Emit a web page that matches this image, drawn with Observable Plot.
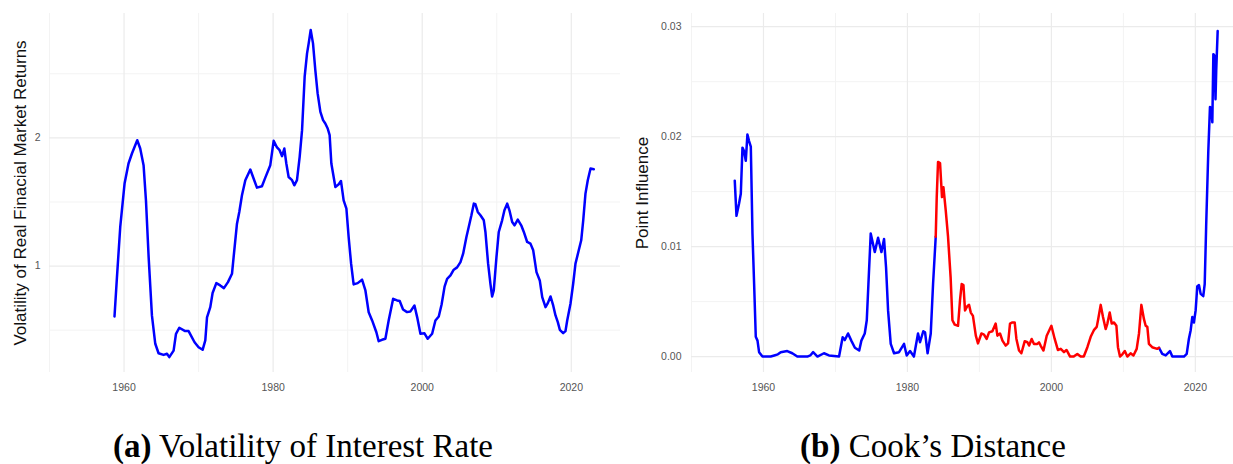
<!DOCTYPE html>
<html>
<head>
<meta charset="utf-8">
<script src="https://cdn.jsdelivr.net/npm/d3@7"></script>
<script src="https://cdn.jsdelivr.net/npm/@observablehq/plot@0.6"></script>
<style>
  html, body { margin: 0; padding: 0; background: white; }
  #wrap { position: relative; width: 1233px; height: 464px; overflow: hidden; background: white; }
  .panel { position: absolute; top: 0; }
  .cap { position: absolute; top: 430px; font-family: "Liberation Serif", "Times New Roman", serif; font-size: 33px; line-height: 33px; white-space: nowrap; color: #000; transform: translateX(-50%); }
  .cap b { font-weight: bold; }
</style>
</head>
<body>
<div id="wrap">
  <div class="panel" id="left" style="left:0px"></div>
  <div class="panel" id="right" style="left:625px"></div>
  <div class="cap" style="left:303px"><b>(a)</b> Volatility of Interest Rate</div>
  <div class="cap" style="left:933px"><b>(b)</b> Cook’s Distance</div>
</div>
<script>
// ---- Data: (a) volatility of real financial market returns ----
const volYears = [
  1958.72,1959.05,1959.49,1960.07,1960.6,1961.06,1961.77,1962.17,1962.62,1962.94,
  1963.3,1963.74,1964.19,1964.63,1965.3,1965.76,1966.07,1966.65,1966.97,1967.41,
  1968.2,1968.66,1969.46,1970.0,1970.54,1970.9,1971.13,1971.57,1971.88,1972.38,
  1972.9,1973.4,1973.94,1974.48,1974.7,1975.15,1975.46,1975.82,1976.27,1976.94,
  1977.38,1977.83,1978.5,1978.95,1979.62,1980.07,1980.52,1980.87,1981.2,1981.5,
  1981.77,1982.08,1982.54,1982.84,1983.2,1983.56,1983.88,1984.23,1984.55,1984.77,
  1985.04,1985.35,1985.66,1985.97,1986.34,1986.7,1987.0,1987.32,1987.58,1987.81,
  1988.35,1988.8,1989.1,1989.46,1989.83,1990.13,1990.46,1990.8,1991.34,1991.93,
  1992.38,1992.82,1993.28,1993.85,1994.16,1994.6,1995.06,1995.5,1996.1,1996.63,
  1996.98,1997.43,1997.97,1998.4,1998.96,1999.32,1999.76,2000.3,2000.74,2001.33,
  2001.77,2002.22,2002.6,2003.0,2003.34,2003.79,2004.23,2004.68,2005.13,2005.49,
  2005.93,2006.24,2006.6,2006.92,2007.14,2007.45,2007.81,2008.26,2008.48,2008.84,
  2009.15,2009.38,2009.6,2009.96,2010.27,2010.72,2011.03,2011.4,2011.7,2012.07,
  2012.38,2012.82,2013.28,2013.63,2014.08,2014.52,2014.89,2015.33,2015.77,2016.1,
  2016.54,2016.85,2017.21,2017.57,2017.88,2018.19,2018.46,2018.91,2019.22,2019.45,
  2019.89,2020.25,2020.56,2021.0,2021.33,2021.6,2021.9,2022.21,2022.58,2023.02
];
const volValues = [
  0.607,0.914,1.305,1.644,1.80,1.878,1.982,1.917,1.787,1.513,
  1.07,0.615,0.394,0.32,0.307,0.316,0.29,0.341,0.472,0.519,
  0.493,0.493,0.406,0.367,0.347,0.42,0.60,0.68,0.79,0.867,
  0.849,0.828,0.875,0.94,1.07,1.331,1.422,1.552,1.67,1.753,
  1.683,1.612,1.623,1.69,1.787,1.977,1.925,1.904,1.857,1.917,
  1.80,1.695,1.67,1.63,1.67,1.852,2.06,2.477,2.659,2.737,
  2.841,2.737,2.529,2.347,2.203,2.138,2.112,2.073,2.021,1.80,
  1.617,1.638,1.664,1.513,1.448,1.227,1.019,0.857,0.867,0.894,
  0.81,0.64,0.576,0.484,0.414,0.425,0.433,0.576,0.745,0.732,
  0.727,0.662,0.641,0.645,0.693,0.602,0.472,0.476,0.433,0.472,
  0.576,0.607,0.70,0.84,0.901,0.927,0.972,0.99,1.031,1.097,
  1.227,1.305,1.396,1.487,1.482,1.422,1.396,1.357,1.266,1.019,
  0.862,0.763,0.81,1.07,1.266,1.357,1.435,1.487,1.435,1.344,
  1.318,1.362,1.318,1.266,1.188,1.175,1.123,0.953,0.888,0.758,
  0.68,0.711,0.763,0.693,0.615,0.563,0.503,0.477,0.493,0.576,
  0.706,0.862,1.019,1.123,1.201,1.357,1.565,1.67,1.761,1.756
];

// ---- Data: (b) Cook's distance ----
const cookYears = [
  1956.01,1956.25,1956.6,1956.85,1957.08,1957.3,1957.54,1957.77,1958.0,1958.24,
  1958.47,1958.7,1958.93,1959.17,1959.39,1959.86,1961.0,1961.5,1962.0,1962.4,
  1963.3,1964.0,1964.7,1966.1,1966.5,1966.9,1967.5,1968.4,1969.1,1970.5,
  1971.0,1971.3,1971.75,1972.2,1972.7,1973.3,1973.6,1974.07,1974.35,1974.58,
  1974.9,1975.46,1975.92,1976.39,1976.75,1977.03,1977.31,1977.68,1978.14,1978.83,
  1979.53,1979.9,1980.36,1980.9,1981.47,1981.75,1982.2,1982.45,1982.8,1983.24,
  1983.56,1983.93,1984.07,1984.25,1984.53,1984.8,1985.0,1985.32,1985.64,1986.0,
  1986.25,1986.57,1987.03,1987.3,1987.54,1987.78,1988.0,1988.33,1988.56,1988.8,
  1989.1,1989.5,1989.8,1990.28,1990.64,1991.0,1991.34,1991.8,1992.26,1992.5,
  1992.86,1993.2,1993.65,1993.98,1994.25,1994.58,1994.9,1995.14,1995.5,1995.83,
  1996.3,1996.67,1996.9,1997.26,1997.58,1998.05,1998.28,1998.5,1998.9,1999.35,
  2000.0,2000.46,2000.9,2001.3,2001.75,2002.1,2002.6,2003.1,2003.6,2004.07,
  2004.5,2005.0,2005.46,2005.9,2006.3,2006.5,2006.85,2007.17,2007.54,2007.78,
  2008.1,2008.38,2008.7,2009.03,2009.25,2009.53,2009.86,2010.2,2010.55,2011.0,
  2011.4,2011.85,2012.17,2012.5,2012.86,2013.1,2013.33,2013.55,2014.0,2014.7,
  2014.95,2015.4,2015.88,2016.47,2016.8,2018.42,2018.8,2019.1,2019.35,2019.58,
  2019.8,2020.04,2020.27,2020.5,2020.74,2021.1,2021.3,2021.5,2021.8,2022.03,
  2022.2,2022.36,2022.5,2022.64,2022.8,2022.9,2023.1
];
const cookValues = [
  0.0160,0.0128,0.0139,0.0148,0.0190,0.0187,0.0178,0.0202,0.0196,0.0191,
  0.0112,0.0066,0.0018,0.00145,0.0004,0.0,0.0,0.0001,0.0002,0.0004,
  0.0005,0.0003,0.0,0.0,0.0001,0.0004,0.0,0.0003,0.0001,0.0,
  0.00176,0.0015,0.0021,0.00145,0.0008,0.00055,0.00145,0.0021,0.0033,0.0066,
  0.0112,0.0095,0.0108,0.0095,0.0107,0.0081,0.0042,0.00115,0.0003,0.0004,
  0.00115,0.0001,0.0005,0.0,0.0021,0.0013,0.0023,0.0022,0.0003,0.0021,
  0.0066,0.0109,0.0145,0.0177,0.0176,0.0145,0.0154,0.0133,0.0109,0.0072,
  0.0033,0.0029,0.0028,0.0051,0.0066,0.0065,0.0042,0.0046,0.0047,0.0040,
  0.0037,0.0019,0.0012,0.0021,0.0020,0.0016,0.0022,0.0023,0.0030,0.0019,
  0.0021,0.00145,0.0010,0.0012,0.0030,0.0031,0.0031,0.0016,0.00055,0.0003,
  0.0014,0.0013,0.0010,0.0016,0.00115,0.00115,0.0013,0.0010,0.00055,0.0019,
  0.0028,0.0016,0.0006,0.0007,0.0004,0.0006,0.0,0.0,0.00024,0.0,
  0.0,0.00085,0.0018,0.0024,0.0027,0.0034,0.0047,0.0036,0.0025,0.0030,
  0.0040,0.0030,0.0031,0.0028,0.00085,0.0,0.0002,0.0005,0.0,0.0003,
  0.0001,0.0007,0.0021,0.0047,0.0034,0.0028,0.0027,0.00115,0.00085,0.0007,
  0.0008,0.00024,0.0001,0.0005,0.0,0.0,0.00024,0.0016,0.0024,0.0036,
  0.0031,0.0042,0.0064,0.0065,0.0057,0.0055,0.0066,0.0118,0.0187,0.0227,
  0.0226,0.0213,0.0275,0.0274,0.0234,0.0260,0.0296
];
// highlighted (red) period of the Cook's distance series
const highlightStart = 1983.93;
const highlightEnd = 2014.95;

// ---- Axis ticks ----
const xMajor = [1960, 1980, 2000, 2020];
const xMinor = [1950, 1970, 1990, 2010];
const volMajor = [1, 2];
const volMinor = [0.5, 1.5, 2.5];
const cookMajor = [0, 0.01, 0.02, 0.03];
const cookMinor = [0.005, 0.015, 0.025];

const volTitle = "Volatility of Real Finacial Market Returns";
const cookTitle = "Point Influence";

const volRows = volYears.map((y, i) => ({year: y, value: volValues[i]}));
const cookRows = cookYears.map((y, i) => ({year: y, value: cookValues[i]}));

const gridMajor = "#ebebeb";
const gridMinor = "#f3f3f3";
const axisStyle = {fontFamily: "'Liberation Sans', Arial, sans-serif", fontSize: "10.5px", color: "#555", background: "white", overflow: "visible"};

const left = Plot.plot({
  width: 625, height: 400,
  marginLeft: 49, marginRight: 5, marginTop: 13, marginBottom: 28,
  style: axisStyle,
  x: {domain: [1950, 2026.6], ticks: xMajor, tickFormat: d => String(d), tickSize: 0, tickPadding: 11, label: null},
  y: {domain: [0.17, 2.97], ticks: volMajor, tickFormat: d => String(d), tickSize: 0, tickPadding: 9, label: null},
  marks: [
    Plot.ruleX(xMinor, {stroke: gridMinor, strokeWidth: 1}),
    Plot.ruleY(volMinor, {stroke: gridMinor, strokeWidth: 1}),
    Plot.ruleX(xMajor, {stroke: gridMajor, strokeWidth: 1.2}),
    Plot.ruleY(volMajor, {stroke: gridMajor, strokeWidth: 1.2}),
    Plot.line(volRows, {x: "year", y: "value", stroke: "#0000ff", strokeWidth: 2.5}),
    Plot.text([volTitle], {frameAnchor: "left", dx: -24, rotate: -90, textAnchor: "middle", lineAnchor: "bottom", fontSize: 17, fill: "#111", fontFamily: "'Liberation Sans', Arial, sans-serif"})
  ]
});
document.getElementById("left").appendChild(left);

const seg = (a, b) => cookRows.filter(d => d.year >= a && d.year <= b);
const right = Plot.plot({
  width: 608, height: 400,
  marginLeft: 66, marginRight: 0, marginTop: 13, marginBottom: 28,
  style: axisStyle,
  x: {domain: [1950, 2025.3], ticks: xMajor, tickFormat: d => String(d), tickSize: 0, tickPadding: 11, label: null},
  y: {domain: [-0.00145, 0.0312], ticks: cookMajor, tickFormat: d3.format(".2f"), tickSize: 0, tickPadding: 10, label: null},
  marks: [
    Plot.ruleX(xMinor, {stroke: gridMinor, strokeWidth: 1}),
    Plot.ruleY(cookMinor, {stroke: gridMinor, strokeWidth: 1}),
    Plot.ruleX(xMajor, {stroke: gridMajor, strokeWidth: 1.2}),
    Plot.ruleY(cookMajor, {stroke: gridMajor, strokeWidth: 1.2}),
    Plot.line(seg(-Infinity, highlightStart), {x: "year", y: "value", stroke: "#0000ff", strokeWidth: 2.5}),
    Plot.line(seg(highlightEnd, Infinity), {x: "year", y: "value", stroke: "#0000ff", strokeWidth: 2.5}),
    Plot.line(seg(highlightStart, highlightEnd), {x: "year", y: "value", stroke: "#ff0000", strokeWidth: 2.5}),
    Plot.text([cookTitle], {frameAnchor: "left", dx: -44, rotate: -90, textAnchor: "middle", lineAnchor: "bottom", fontSize: 17, fill: "#111", fontFamily: "'Liberation Sans', Arial, sans-serif"})
  ]
});
document.getElementById("right").appendChild(right);
</script>
</body>
</html>
